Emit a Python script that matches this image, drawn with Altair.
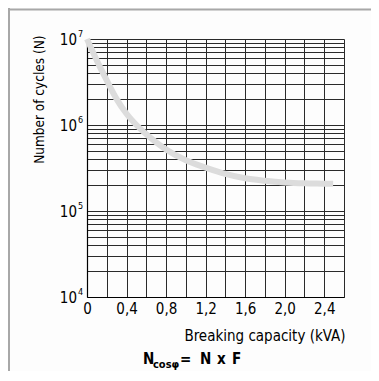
import altair as alt
import pandas as pd

# Curve
capacity_kva = [0, 0.1, 0.2, 0.3, 0.4, 0.5, 0.6, 0.7, 0.8, 1.0, 1.2, 1.4, 1.6, 1.8, 2.0, 2.2, 2.4, 2.49]
cycles_n = [1.0e7, 5.6e6, 3.3e6, 2.0e6, 1.35e6, 1.0e6, 7.8e5, 6.3e5, 5.2e5, 3.9e5, 3.2e5,
            2.7e5, 2.4e5, 2.25e5, 2.15e5, 2.1e5, 2.08e5, 2.07e5]

# Axis content
x_grid_values = [0, 0.2, 0.4, 0.6, 0.8, 1.0, 1.2, 1.4, 1.6, 1.8, 2.0, 2.2, 2.4, 2.6]
x_labelled = [0, 0.4, 0.8, 1.2, 1.6, 2.0, 2.4]
y_grid_values = [m * 10 ** e for e in (4, 5, 6) for m in range(1, 10)] + [1e7]
y_decades = [1e4, 1e5, 1e6, 1e7]
y_exponents = ["4", "5", "6", "7"]

FONT = "Liberation Sans Narrow, Arial Narrow, DejaVu Sans Condensed, Roboto, sans-serif"
W, H = 257, 258
INK = "#000"

curve_df = pd.DataFrame({"x": capacity_kva, "n": cycles_n})
dec_df = pd.DataFrame({"n": y_decades, "base": ["10"] * 4, "exp": y_exponents})

label_expr = ("indexof([" + ",".join(str(round(v * 10)) for v in x_labelled) + "], round(datum.value*10)) >= 0 ? "
              "(datum.value == 0 ? '0' : replace(format(datum.value, '.1f'), '.', ',')) : ''")

x_scale = alt.Scale(domain=[0, 2.6], nice=False, zero=False)
y_scale = alt.Scale(type="log", domain=[1e4, 1e7], nice=False)

curve = alt.Chart(curve_df).mark_line(
    color="#dcdcdc", strokeWidth=6, interpolate="monotone", strokeCap="butt"
).encode(
    x=alt.X("x:Q", scale=x_scale, title="Breaking capacity (kVA)",
            axis=alt.Axis(values=x_grid_values, labelExpr=label_expr, grid=True,
                          gridColor="#2a2a2a", gridWidth=1, gridOpacity=1,
                          domainColor="#000", domainWidth=1.2, ticks=False,
                          labelFont=FONT, labelFontSize=15, labelColor=INK,
                          labelPadding=4, labelFlush=False, labelOverlap=False,
                          titleFont=FONT, titleFontSize=15, titleFontWeight="normal",
                          titleColor=INK, titleAnchor="end", titleAlign="right",
                          titleX=W + 1, titleY=43, titleBaseline="alphabetic")),
    y=alt.Y("n:Q", scale=y_scale, title="Number of cycles (N)",
            axis=alt.Axis(values=y_grid_values, labels=False, grid=True,
                          gridColor="#2a2a2a", gridWidth=1, gridOpacity=1,
                          domainColor="#000", domainWidth=1.2, ticks=False,
                          titleFont=FONT, titleFontSize=13.5, titleFontWeight="normal",
                          titleColor=INK, titleAngle=-90, titleAlign="right",
                          titleBaseline="alphabetic", titleX=-44, titleY=-4)),
)

base_lbl = alt.Chart(dec_df).mark_text(
    font=FONT, fontSize=15, align="right", baseline="middle", dy=1, color=INK
).encode(x=alt.value(-10), y=alt.Y("n:Q", scale=y_scale), text="base:N")

exp_lbl = alt.Chart(dec_df).mark_text(
    font=FONT, fontSize=9, align="left", baseline="middle", dy=-5, color=INK
).encode(x=alt.value(-9), y=alt.Y("n:Q", scale=y_scale), text="exp:N")

one = alt.Data(values=[{}])


def txt(s, x, y, size, weight="bold", align="left"):
    return alt.Chart(one).mark_text(
        text=s, font=FONT, fontSize=size, fontWeight=weight, align=align,
        baseline="alphabetic", color=INK
    ).encode(x=alt.value(x), y=alt.value(y))


formula = [
    txt("N", 56, 325, 15),
    txt("cosφ", 66, 329, 11),
    txt("=", 93, 325, 15),
    txt("N", 113, 325, 15),
    txt("x", 130, 325, 15),
    txt("F", 145, 325, 15),
]

frame_left = alt.Chart(one).mark_rule(color="#a8a8a8", strokeWidth=2).encode(
    x=alt.value(-78), y=alt.value(-31), y2=alt.value(H + 74))
frame_top = alt.Chart(one).mark_rule(color="#a8a8a8", strokeWidth=2).encode(
    x=alt.value(-79), x2=alt.value(W + 27), y=alt.value(-29.5))

chart = alt.layer(curve, base_lbl, exp_lbl, frame_left, frame_top, *formula).properties(
    width=W, height=H,
    autosize=alt.AutoSizeParams(type="none"),
    padding={"left": 79, "top": 31, "right": 27, "bottom": 74},
    background="#fdfdfd",
).configure_view(stroke=None)

chart.save("out.html", embed_options={"renderer": "svg", "actions": False})
